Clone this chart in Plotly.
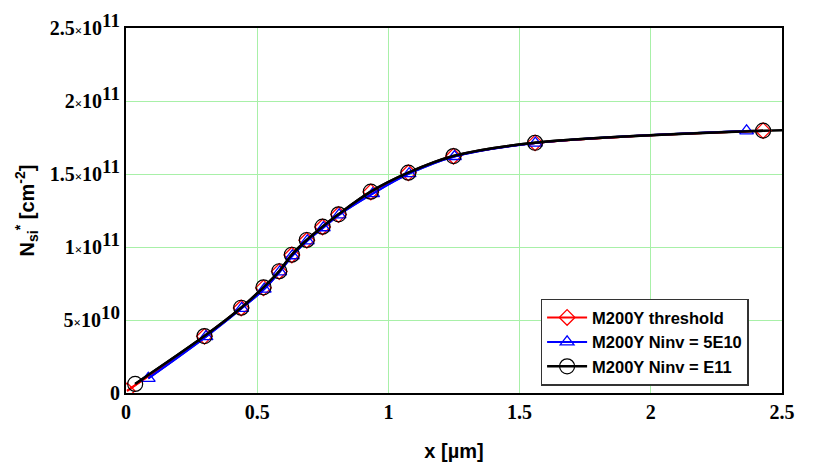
import plotly.graph_objects as go

# Data (x in um, N in 1e10 cm^-2)
thr_x = [0.004, 0.299, 0.439, 0.524, 0.584, 0.632, 0.689, 0.749, 0.810, 0.933, 1.076, 1.248, 1.559, 2.428]
thr_y = [0.15, 3.88, 5.82, 7.20, 8.32, 9.45, 10.46, 11.37, 12.22, 13.77, 15.08, 16.22, 17.13, 17.97]

n5_x = [0.085, 0.305, 0.441, 0.527, 0.586, 0.634, 0.691, 0.752, 0.812, 0.940, 1.079, 1.252, 1.560, 2.365]
n5_y = [1.00, 3.86, 5.80, 7.12, 8.30, 9.40, 10.42, 11.32, 12.20, 13.65, 15.02, 16.20, 17.12, 17.95]

n11_x = [0.035, 0.299, 0.439, 0.524, 0.584, 0.632, 0.689, 0.749, 0.810, 0.933, 1.076, 1.248, 1.559, 2.428]
n11_y = [0.62, 3.90, 5.84, 7.24, 8.34, 9.47, 10.48, 11.39, 12.24, 13.79, 15.09, 16.23, 17.14, 17.97]

# the black curve runs on to the right edge
n11_end_x = 2.5
n11_end_y = 18.0

names = ["M200Y threshold", "M200Y Ninv = 5E10", "M200Y Ninv = E11"]

ytick_vals = [0, 5e10, 1e11, 1.5e11, 2e11, 2.5e11]
ytick_mant = ["", "5", "1", "1.5", "2", "2.5"]
ytick_exp = ["", "10", "11", "11", "11", "11"]
xtick_vals = [0, 0.5, 1, 1.5, 2, 2.5]
xtick_text = ["0", "0.5", "1", "1.5", "2", "2.5"]


def sci_label(m, e):
    if not m:
        return "0"
    return (m + '<span style="font-size:13px">×</span>10'
            + '<sup><span style="font-size:19px">' + e + '</span></sup>')


ytick_text = [sci_label(m, e) for m, e in zip(ytick_mant, ytick_exp)]

scale = 1e10
fig = go.Figure()

# lines (no legend)
fig.add_trace(go.Scatter(x=thr_x, y=[v * scale for v in thr_y], mode="lines",
                         line=dict(color="red", width=2, shape="spline"),
                         showlegend=False, hoverinfo="skip"))
fig.add_trace(go.Scatter(x=n5_x, y=[v * scale for v in n5_y], mode="lines",
                         line=dict(color="blue", width=2, shape="spline"),
                         showlegend=False, hoverinfo="skip"))
fig.add_trace(go.Scatter(x=n11_x + [n11_end_x], y=[v * scale for v in n11_y + [n11_end_y]],
                         mode="lines", line=dict(color="black", width=2.5, shape="spline"),
                         showlegend=False, hoverinfo="skip"))

# markers
fig.add_trace(go.Scatter(x=thr_x, y=[v * scale for v in thr_y], mode="lines+markers",
                         name=names[0], line=dict(color="red", width=2, shape="spline"),
                         marker=dict(symbol="diamond-open", size=12, color="red",
                                     line=dict(width=1.3, color="red"))))
fig.add_trace(go.Scatter(x=n5_x, y=[v * scale for v in n5_y], mode="lines+markers",
                         name=names[1], line=dict(color="blue", width=2, shape="spline"),
                         marker=dict(symbol="triangle-up-open", size=12, color="blue",
                                     line=dict(width=1.3, color="blue"))))
fig.add_trace(go.Scatter(x=n11_x, y=[v * scale for v in n11_y], mode="lines+markers",
                         name=names[2], line=dict(color="black", width=2.5, shape="spline"),
                         marker=dict(symbol="circle-open", size=15, color="black",
                                     line=dict(width=1.2, color="black"))))

tickfont = dict(family="Liberation Serif", size=20, color="black", weight="bold")
titlefont = dict(family="Liberation Sans", size=20, color="black", weight="bold")

# page body has an 8px margin, so the figure is sized 822x456
fig.update_layout(
    width=822, height=456,
    margin=dict(l=118, r=48, t=20, b=71),
    paper_bgcolor="white", plot_bgcolor="white",
    xaxis=dict(range=[0, 2.5], tickvals=xtick_vals, ticktext=xtick_text,
               showgrid=True, gridcolor="#a8f0a8", gridwidth=1, zeroline=False,
               showline=True, linecolor="black", linewidth=2, mirror=True,
               ticks="", tickfont=tickfont, automargin=False,
               title=dict(text="x [µm]", font=titlefont, standoff=22)),
    yaxis=dict(range=[0, 2.5e11], tickvals=ytick_vals, ticktext=ytick_text,
               showgrid=True, gridcolor="#a8f0a8", gridwidth=1, zeroline=False,
               showline=True, linecolor="black", linewidth=2, mirror=True,
               ticks="", tickfont=tickfont, automargin=False,
               title=dict(text="N<sub>si</sub><sup>*</sup> [cm<sup>-2</sup>]",
                          font=titlefont, standoff=10)),
    legend=dict(x=0.632, y=0.02, xanchor="left", yanchor="bottom",
                bgcolor="white", bordercolor="#333333", borderwidth=1.5,
                font=dict(family="Liberation Sans", size=16.5, color="black", weight="bold"),
                tracegroupgap=0, itemwidth=40),
    showlegend=True,
)

fig.write_html("out.html")
